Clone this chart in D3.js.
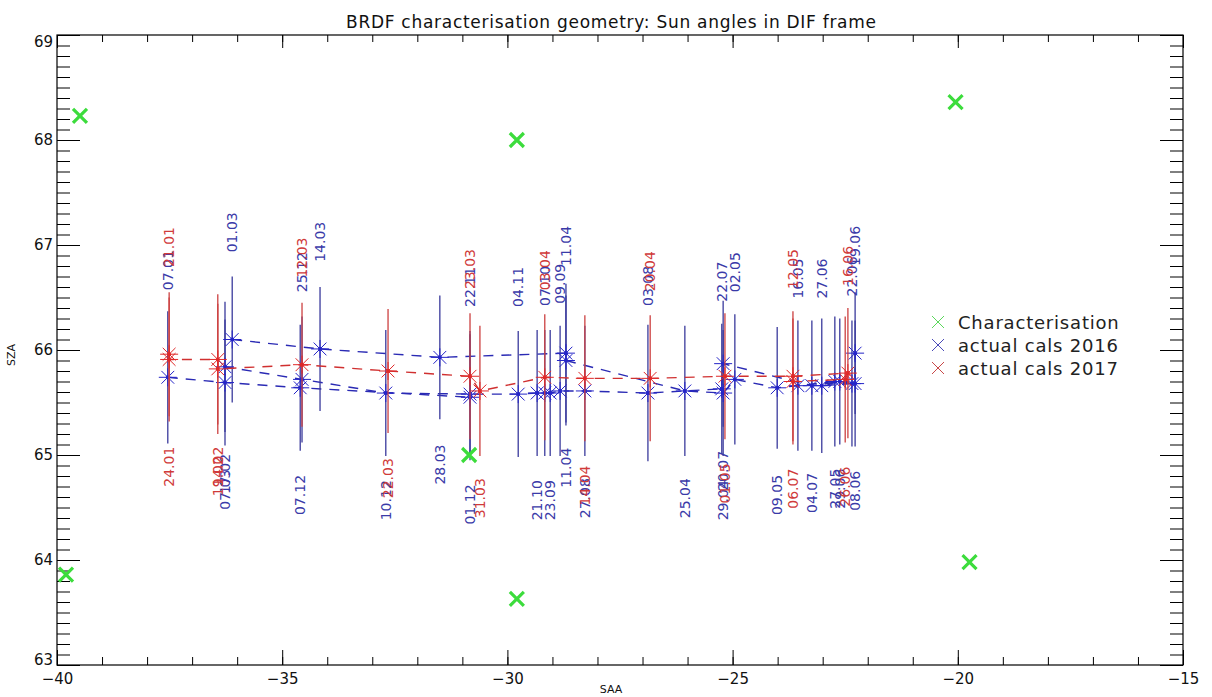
<!DOCTYPE html>
<html>
<head>
<meta charset="utf-8">
<script src="https://cdn.jsdelivr.net/npm/d3@7"></script>
<style>
body { margin: 0; background: #fff; }
text { font-family: "DejaVu Sans", sans-serif; }
</style>
</head>
<body>
<svg width="1212" height="697"></svg>
<script>
// ---- data ----
var xTicks = [-40, -35, -30, -25, -20, -15];
var yTicks = [63, 64, 65, 66, 67, 68, 69];

// characterisation geometry
var charSAA = [-39.49, -39.80, -29.79, -29.79, -30.85, -20.05, -19.74];
var charSZA = [68.23, 63.86, 68.00, 63.63, 65.00, 68.36, 63.98];

// actual cals 2016 (pass = which dashed run the point belongs to)
var blueDates = ["01.03","14.03","28.03","11.04","11.04","25.04","29.04","02.05","09.05","16.05","27.05","08.06","19.06",
                 "22.06","27.06","29.06","04.07","20.07","22.07","03.08","27.08","09.09","23.09","07.10","21.10","04.11","22.11","10.12","25.12","17.02",
                 "07.01","07.03","07.12","01.12"];
var blueSAA = [-36.11,-34.16,-31.50,-28.70,-28.70,-26.06,-25.21,-24.95,-24.01,-23.55,-22.73,-22.28,-22.28,
               -22.35,-23.02,-22.62,-23.24,-25.21,-25.24,-26.88,-28.28,-28.83,-29.05,-29.17,-29.34,-29.76,-30.83,-32.70,-34.56,-36.27,
               -37.54,-36.27,-34.60,-30.83];
var blueSZA = [66.10,66.01,65.93,65.97,65.90,65.61,65.59,65.72,65.64,65.66,65.70,65.68,65.97,
               65.68,65.66,65.70,65.66,65.87,65.63,65.59,65.61,65.61,65.59,65.59,65.59,65.58,65.58,65.59,65.72,65.84,
               65.74,65.69,65.64,65.55];
var blueErr = [0.60,0.59,0.59,0.66,0.62,0.62,0.60,0.62,0.58,0.62,0.62,0.60,0.58,
               0.60,0.64,0.60,0.62,0.60,0.62,0.65,0.62,0.62,0.60,0.60,0.60,0.60,0.60,0.60,0.60,0.62,
               0.63,0.60,0.60,0.60];
var bluePass = [0,0,0,0,0,0,0,0,0,0,0,0,0,
                1,1,1,1,1,1,1,1,1,1,1,1,1,1,1,1,1,
                2,2,2,2];

// actual cals 2017
var redDates = ["21.01","24.01","14.02","19.02","12.03","22.03","23.03","31.03","03.04","14.04","20.04","01.05","12.05","16.06","26.06","06.07"];
var redSAA = [-37.51,-37.51,-36.43,-36.43,-34.56,-32.65,-30.83,-30.61,-29.17,-28.28,-26.83,-25.17,-23.66,-22.44,-22.50,-23.66];
var redSZA = [65.96,65.91,65.91,65.82,65.86,65.80,65.75,65.61,65.74,65.73,65.73,65.75,65.75,65.78,65.72,65.70];
var redErr = [0.59,0.59,0.62,0.62,0.59,0.59,0.60,0.62,0.60,0.60,0.60,0.60,0.62,0.62,0.60,0.60];

// which end of the bar the date label sits on (1 = above)
var blueAbove = [1,1,0,1,0,0,0,1,0,1,0,0,1, 1,1,0,0,0,1,1,0,1,0,1,0,1,1,0,1,0, 1,0,0,0];
var redAbove = [1,0,0,0,1,0,1,0,1,0,1,0,1,1,0,0];

// ---- chart ----
var svg = d3.select("svg");
var x = d3.scaleLinear().domain([-40, -15]).range([57, 1183]);
var y = d3.scaleLinear().domain([63, 69]).range([665, 35]);

function clean(g) {
  g.select(".domain").remove();
  g.selectAll(".tick line").attr("stroke", "#000");
  g.selectAll("text").attr("fill", "#111").style("font-size", "15px");
}

var xMinor = d3.range(-40, -14.99, 1);
var yMinor = d3.range(63, 69.001, 0.1);

svg.append("g").attr("transform", "translate(0,665)")
  .call(d3.axisBottom(x).tickValues(xMinor).tickSize(-8).tickFormat("")).call(clean);
svg.append("g").attr("transform", "translate(0,665)")
  .call(d3.axisBottom(x).tickValues(xTicks).tickSize(-15).tickPadding(8)).call(clean);
svg.append("g").attr("transform", "translate(0,35)")
  .call(d3.axisTop(x).tickValues(xMinor).tickSize(-7).tickFormat("")).call(clean);
svg.append("g").attr("transform", "translate(0,35)")
  .call(d3.axisTop(x).tickValues(xTicks).tickSize(-13).tickFormat("")).call(clean);
svg.append("g").attr("transform", "translate(57,0)")
  .call(d3.axisLeft(y).tickValues(yMinor).tickSize(-13).tickFormat("")).call(clean);
svg.append("g").attr("transform", "translate(57,0)")
  .call(d3.axisLeft(y).tickValues(yTicks).tickSize(-23).tickPadding(4).tickFormat(d3.format("d")))
  .call(clean)
  .call(function(g) {
    // end labels are kept inside the axis span
    g.selectAll(".tick text").attr("dy", function(d) { return d === 63 ? "-0.05em" : d === 69 ? "0.75em" : "0.32em"; });
  });
svg.append("g").attr("transform", "translate(1183,0)")
  .call(d3.axisRight(y).tickValues(yMinor).tickSize(-13).tickFormat("")).call(clean);
svg.append("g").attr("transform", "translate(1183,0)")
  .call(d3.axisRight(y).tickValues(yTicks).tickSize(-23).tickFormat("")).call(clean);

svg.append("rect")
  .attr("x", 57).attr("y", 35).attr("width", 1126).attr("height", 630)
  .attr("fill", "none").attr("stroke", "#000").attr("stroke-width", 1.2);

svg.append("text").attr("x", 611).attr("y", 28).attr("text-anchor", "middle")
  .attr("textLength", 530).attr("lengthAdjust", "spacing")
  .style("font-size", "17px").attr("fill", "#111")
  .text("BRDF characterisation geometry: Sun angles in DIF frame");
svg.append("text").attr("x", 611).attr("y", 693).attr("text-anchor", "middle")
  .style("font-size", "11px").attr("fill", "#111").text("SAA");
svg.append("text").attr("transform", "translate(15,355) rotate(-90)").attr("text-anchor", "middle")
  .style("font-size", "11px").attr("fill", "#111").text("SZA");

var star = "M-9,0H9M0,-9V9M-6.4,-6.4L6.4,6.4M-6.4,6.4L6.4,-6.4";
var line = d3.line().x(function(d) { return x(d.saa); }).y(function(d) { return y(d.sza); });

function drawSeries(pts, col) {
  var g = svg.append("g");
  g.selectAll("path.run")
    .data(d3.groups(pts, function(d) { return d.pass; }))
    .enter().append("path")
    .attr("d", function(d) { return line(d[1]); })
    .attr("fill", "none").attr("stroke", col.line).attr("stroke-width", 1.4)
    .attr("stroke-dasharray", "10,8");

  g.selectAll("line.bar").data(pts).enter().append("line")
    .attr("x1", function(d) { return x(d.saa); })
    .attr("x2", function(d) { return x(d.saa); })
    .attr("y1", function(d) { return y(d.sza + d.err); })
    .attr("y2", function(d) { return y(d.sza - d.err); })
    .attr("stroke", col.bar).attr("stroke-width", 1.3);

  g.selectAll("path.mk").data(pts).enter().append("path")
    .attr("d", star)
    .attr("transform", function(d) { return "translate(" + x(d.saa) + "," + y(d.sza) + ")"; })
    .attr("stroke", col.mark).attr("stroke-width", 1).attr("fill", "none");

  g.selectAll("circle").data(pts).enter().append("circle")
    .attr("cx", function(d) { return x(d.saa); })
    .attr("cy", function(d) { return y(d.sza); })
    .attr("r", 2).attr("fill", col.mark);

  g.selectAll("text").data(pts).enter().append("text")
    .attr("transform", function(d) {
      var ly = d.above ? y(d.sza + 0.83) : y(d.sza - 0.83);
      return "translate(" + x(d.saa) + "," + ly + ") rotate(-90)";
    })
    .attr("text-anchor", function(d) { return d.above ? "start" : "end"; })
    .attr("dy", "0.35em")
    .style("font-size", "14px")
    .attr("fill", col.text)
    .text(function(d) { return d.date; });
}

var bluePts = blueDates.map(function(d, i) {
  return { date: d, saa: blueSAA[i], sza: blueSZA[i], err: blueErr[i], pass: bluePass[i], above: blueAbove[i] };
});
var redPts = redDates.map(function(d, i) {
  return { date: d, saa: redSAA[i], sza: redSZA[i], err: redErr[i], pass: 0, above: redAbove[i] };
});

drawSeries(bluePts, { line: "#2a2ab4", bar: "#3a3a9c", mark: "#2424c8", text: "#3a3aa8" });
drawSeries(redPts, { line: "#d03030", bar: "#cc4040", mark: "#e02828", text: "#d03a3a" });

// characterisation crosses
svg.append("g").selectAll("path")
  .data(charSAA.map(function(s, i) { return { saa: s, sza: charSZA[i] }; }))
  .enter().append("path")
  .attr("d", "M-7,-7L7,7M-7,7L7,-7")
  .attr("transform", function(d) { return "translate(" + x(d.saa) + "," + y(d.sza) + ")"; })
  .attr("stroke", "#3cdc3c").attr("stroke-width", 3.2).attr("fill", "none");

// legend
var legend = [
  { name: "Characterisation", color: "#5ad85a" },
  { name: "actual cals 2016", color: "#4a4ab8" },
  { name: "actual cals 2017", color: "#c84848" }
];
var lg = svg.append("g").selectAll("g").data(legend).enter().append("g")
  .attr("transform", function(d, i) { return "translate(938," + (322 + i * 23) + ")"; });
lg.append("path").attr("d", "M-6,-6L6,6M-6,6L6,-6")
  .attr("stroke", function(d) { return d.color; }).attr("stroke-width", 1).attr("fill", "none");
lg.append("text").attr("x", 20).attr("dy", "0.38em")
  .style("font-size", "18px").style("letter-spacing", "0.8px").attr("fill", "#222")
  .text(function(d) { return d.name; });
</script>
</body>
</html>
